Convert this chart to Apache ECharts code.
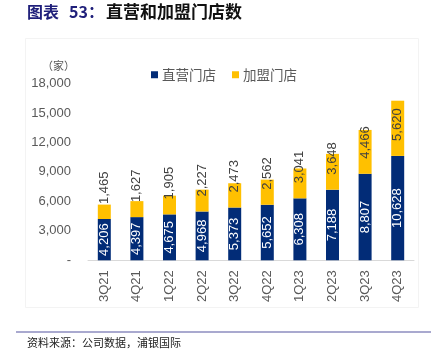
<!DOCTYPE html>
<html>
<head>
<meta charset="utf-8">
<script src="https://cdn.jsdelivr.net/npm/echarts@6/dist/echarts.min.js"></script>
<style>
html,body{margin:0;padding:0;background:#fff;}
#chart{width:442px;height:359px;}
</style>
</head>
<body>
<div id="chart"></div>
<script>
// ---- data ----
const categories = ['3Q21','4Q21','1Q22','2Q22','3Q22','4Q22','1Q23','2Q23','3Q23','4Q23'];
const directStores = [4206,4397,4675,4968,5373,5652,6308,7188,8807,10628];
const franchiseStores = [1465,1627,1905,2227,2473,2562,3041,3648,4466,5620];
const seriesNames = ['直营门店','加盟门店'];
const yTicks = [0,3000,6000,9000,12000,15000,18000];
const titlePrefix = '图表 53：';
const titleText = '直营和加盟门店数';
const unitText = '（家）';
const sourceText = '资料来源：公司数据，浦银国际';

const fmt = v => v === 0 ? '-' : v.toString().replace(/\B(?=(\d{3})+(?!\d))/g, ',');
const numFont = '"Liberation Sans", Arial, sans-serif';
const cjkFont = '"Noto Sans CJK SC", sans-serif';

const chart = echarts.init(document.getElementById('chart'), null, {renderer:'canvas'});
chart.setOption({
  animation:false,
  backgroundColor:'#fff',
  graphic:[
    {type:'rect', shape:{x:25.5,y:38.5,width:393,height:269}, style:{fill:'none', stroke:'#f3f3f3', lineWidth:1}, silent:true, z:-1},
    {type:'text', left:27, top:4, style:{text:'图表', font:'bold 16px '+cjkFont, fill:'#1f1f7a'}},
    {type:'text', left:69, top:4, style:{text:'53：', font:'bold 16px '+cjkFont, fill:'#1f1f7a'}},
    {type:'text', left:106, top:3, style:{text:titleText, font:'bold 17px '+cjkFont, fill:'#111'}},
    {type:'text', left:42, top:60, style:{text:unitText, font:'11px '+cjkFont, fill:'#595959'}},
    {type:'line', shape:{x1:16,y1:332,x2:431,y2:332}, style:{stroke:'#a9a9cf', lineWidth:2}},
    {type:'text', left:27, top:337, style:{text:sourceText, font:'11px '+cjkFont, fill:'#222'}}
  ],
  legend:{
    data:seriesNames,
    left:146, top:63,
    itemWidth:7, itemHeight:7, itemGap:16,
    icon:'rect',
    textStyle:{fontSize:13.5, color:'#595959', fontFamily:cjkFont, padding:[0,0,0,-1]}
  },
  grid:{left:88, right:28, top:83.5, bottom:98.7, containLabel:false},
  xAxis:{
    type:'category', data:categories,
    axisTick:{show:false},
    axisLine:{lineStyle:{color:'#d9d9d9', width:1}},
    axisLabel:{rotate:90, margin:10, fontSize:13, color:'#595959', fontFamily:numFont}
  },
  yAxis:{
    type:'value', min:yTicks[0], max:yTicks[yTicks.length-1], interval:3000,
    splitLine:{show:false}, axisLine:{show:false}, axisTick:{show:false},
    axisLabel:{formatter:fmt, margin:17, fontSize:13, color:'#595959', fontFamily:numFont}
  },
  series:[
    {
      name:seriesNames[0], type:'bar', stack:'s', data:directStores, barWidth:13,
      itemStyle:{color:'#022c77'},
      label:{show:true, position:'inside', rotate:90, align:'center', verticalAlign:'middle',
        formatter:p=>fmt(p.value), color:'#fff', fontSize:13, fontFamily:numFont}
    },
    {
      name:seriesNames[1], type:'bar', stack:'s', data:franchiseStores, barWidth:13,
      itemStyle:{color:'#ffc000'},
      label:{show:true, position:'insideBottom', distance:15, rotate:90, align:'left', verticalAlign:'middle',
        formatter:p=>fmt(p.value), color:'#404040', fontSize:13, fontFamily:numFont}
    }
  ]
});
</script>
</body>
</html>
